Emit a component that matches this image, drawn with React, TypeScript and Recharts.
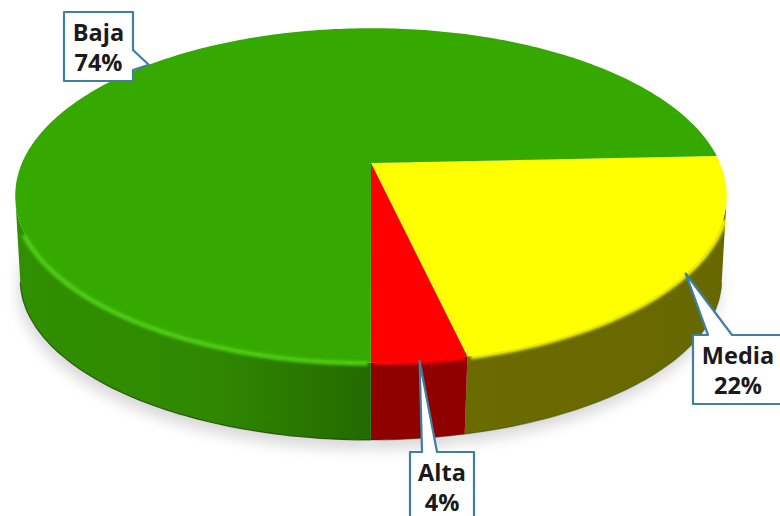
import { PieChart, Pie } from "recharts";

const categories = ["Media", "Alta", "Baja"];
const shares = [22.1, 3.6, 74.3];
const data = categories.map((name, i) => ({ name, value: shares[i] }));

const looks: Record<string, any> = {
  Media: { top: "#ffff00", rim: "#ffff10", wall: [["0%", "#6c6c00"], ["100%", "#686800"]] },
  Alta: { top: "#ff0000", rim: "#ff0000", wall: [["0%", "#8f0000"], ["100%", "#930000"]] },
  Baja: { top: "#36a900", rim: "#4fd012", wall: [["0%", "#2f9000"], ["28%", "#308800"], ["50%", "#236a00"]] },
};

// callout boxes, pointer tips come from the slice's mid angle
const boxes: Record<string, any> = {
  Baja: { x: 64, y: 12, w: 69, h: 69, side: "right", b1: 50, b2: 70 },
  Media: { x: 693, y: 335, w: 100, h: 69, side: "top", b1: 708, b2: 732, tx: 738 },
  Alta: { x: 410, y: 452, w: 64, h: 80, side: "top", b1: 422, b2: 437 },
};

const TOP = { sx: 1, sy: 0.4613, dy: 0, k: 0.194 };
const BASE = { sx: 0.9885, sy: 0.444, dy: 88, k: 0.18 };
const FRONT_FROM = -11.2;
const FRONT_TO = -168.8;

function project(cx: number, cy: number, r: number, deg: number, p: typeof TOP) {
  const a = (deg * Math.PI) / 180;
  const w = 1 + p.k * Math.sin(a);
  return [cx + (r * p.sx * Math.cos(a)) / w, cy + p.dy - (r * p.sy * Math.sin(a)) / w];
}

function arc(cx: number, cy: number, r: number, from: number, to: number, p: typeof TOP) {
  const pts: number[][] = [];
  const n = Math.max(2, Math.ceil(Math.abs(from - to)));
  for (let i = 0; i <= n; i++) pts.push(project(cx, cy, r, from + ((to - from) * i) / n, p));
  return pts;
}

const toPath = (pts: number[][]) => pts.map((q, i) => `${i ? "L" : "M"}${q[0].toFixed(1)} ${q[1].toFixed(1)}`).join(" ");

function ShadowSlice(props: any) {
  const { cx, cy, outerRadius, startAngle, endAngle } = props;
  const pts = [project(cx, cy, 0, 0, BASE), ...arc(cx, cy, outerRadius, startAngle, endAngle, BASE)];
  return (
    <g>
      <defs>
        <filter id={`shadow-${props.name}`} x="-10%" y="-10%" width="120%" height="120%">
          <feGaussianBlur stdDeviation="7" />
        </filter>
      </defs>
      <path d={toPath(pts) + " Z"} fill="#d8d8d8" transform="translate(-2 9)" filter={`url(#shadow-${props.name})`} />
    </g>
  );
}

function Slice3D(props: any) {
  const { cx, cy, outerRadius: r, startAngle, endAngle, name } = props;
  const look = looks[name];
  const hi = Math.min(startAngle, FRONT_FROM);
  const lo = Math.max(endAngle, FRONT_TO);
  const hasWall = hi > lo;
  const topPts = [project(cx, cy, 0, 0, TOP), ...arc(cx, cy, r, startAngle, endAngle, TOP)];
  // keep the soft rim away from the silhouette at both ends of the front
  const rimHi = name === "Media" ? hi - 8 : hi - 0.4;
  const rimLo = name === "Baja" ? lo + 13 : lo + 0.4;
  return (
    <g>
      <defs>
        <linearGradient id={`wall-${name}`} gradientUnits="userSpaceOnUse" x1={name === "Baja" ? 13 : 371} x2={725} y1="0" y2="0">
          {look.wall.map((s: string[]) => (
            <stop key={s[0]} offset={s[0]} stopColor={s[1]} />
          ))}
        </linearGradient>
        <filter id={`soft-${name}`} x="-10%" y="-10%" width="120%" height="120%">
          <feGaussianBlur stdDeviation="1.7" />
        </filter>
      </defs>
      {hasWall && (
        <path
          d={toPath([...arc(cx, cy, r, hi, lo, TOP), ...arc(cx, cy, r, lo, hi, BASE)]) + " Z"}
          fill={`url(#wall-${name})`}
        />
      )}
      {hasWall && <path d={toPath(arc(cx, cy, r, hi, lo, BASE))} fill="none" stroke="#1c3c00" strokeOpacity={name === "Baja" ? 0.75 : 0.35} strokeWidth={1.2} />}
      <path d={toPath(topPts) + " Z"} fill={look.top} />
      {hasWall && (
        <path
          d={toPath(arc(cx, cy, r * 1.004, rimHi, rimLo, TOP))}
          fill="none"
          stroke={look.rim}
          strokeWidth={4.5}
          filter={`url(#soft-${name})`}
        />
      )}
    </g>
  );
}

function Callout(props: any) {
  const { cx, cy, outerRadius, midAngle, name, value } = props;
  const b = boxes[name];
  const [tx, ty] = project(cx, cy, outerRadius, midAngle, TOP);
  const right = b.x + b.w;
  const bottom = b.y + b.h;
  const d =
    b.side === "right"
      ? `M${b.x} ${b.y} H${right} V${b.b1} L${tx} ${ty} L${right} ${b.b2} V${bottom} H${b.x} Z`
      : `M${b.x} ${b.y} H${b.b1} L${tx} ${ty} L${b.b2} ${b.y} H${right} V${bottom} H${b.x} Z`;
  const mid = b.tx ?? b.x + b.w / 2;
  const font = { fontFamily: "Open Sans", fontWeight: 700, fontSize: 23.5, fill: "#1a1a1a" };
  return (
    <g>
      <path d={d} fill="#ffffff" stroke="#3f7f9f" strokeWidth={2.2} strokeLinejoin="round" />
      <text x={mid} y={b.y + 28.5} textAnchor="middle" {...font}>
        {name}
      </text>
      <text x={mid} y={b.y + 58.5} textAnchor="middle" {...font}>
        {Math.round(value)}%
      </text>
    </g>
  );
}

export default function App() {
  return (
    <div style={{ position: "absolute", left: 0, top: 0, width: 780, height: 516, background: "#fff" }}>
      <PieChart width={780} height={516} margin={{ top: 0, right: 0, bottom: 0, left: 0 }}>
        <Pie
          data={data}
          dataKey="value"
          nameKey="name"
          cx={371}
          cy={163}
          outerRadius={349}
          startAngle={2.5}
          endAngle={-357.5}
          stroke="none"
          shape={ShadowSlice}
          isAnimationActive={false}
        />
        <Pie
          data={data}
          dataKey="value"
          nameKey="name"
          cx={371}
          cy={163}
          outerRadius={349}
          startAngle={2.5}
          endAngle={-357.5}
          stroke="none"
          shape={Slice3D}
          label={Callout}
          labelLine={false}
          isAnimationActive={false}
        />
      </PieChart>
    </div>
  );
}
